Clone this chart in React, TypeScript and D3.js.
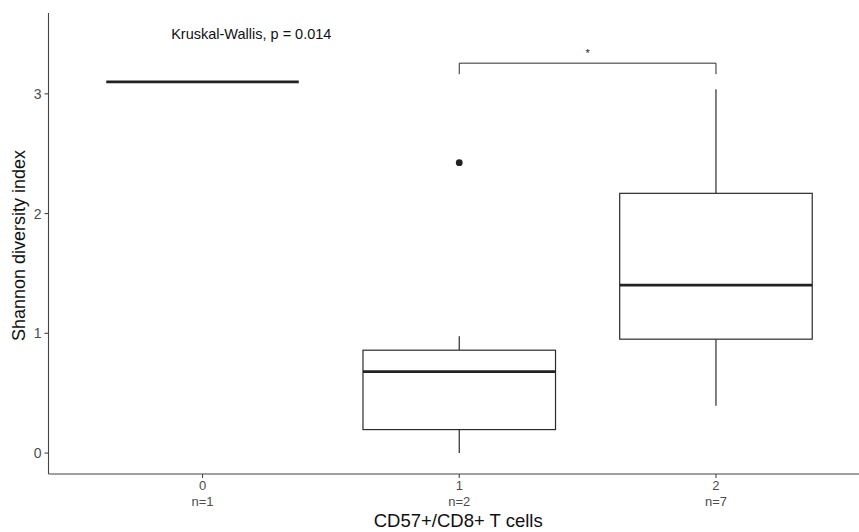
import React from "react";
import * as d3 from "d3";

// ---- data ----
const groups = ["0", "1", "2"];
const groupN = [1, 2, 7];
const whiskerLow = [3.1, 0.0, 0.396];
const q1 = [3.1, 0.196, 0.951];
const median = [3.1, 0.68, 1.402];
const q3 = [3.1, 0.859, 2.169];
const whiskerHigh = [3.1, 0.976, 3.038];
const outlierGroups = ["1"];
const outlierValues = [2.425];
const yTicks = [0, 1, 2, 3];
const kwLabel = "Kruskal-Wallis, p = 0.014";
const kwLabelPos = { x: 0.19, y: 3.5 };
const sigPair = ["1", "2"];
const sigLabel = "*";
const sigY = 3.256;
const sigTip = 3.164;
const xTitle = "CD57+/CD8+ T cells";
const yTitle = "Shannon diversity index";
const yDataMin = 0;
const yDataMax = 3.5;

const W = 859;
const H = 532;
const margin = { left: 48.5, top: 13, bottom: 474, right: 870 };
const FONT = "'Liberation Sans', Arial, Helvetica, sans-serif";
const INK = "#2b2b2b";

export default function App() {
  const x = d3
    .scaleBand<string>()
    .domain(groups)
    .range([margin.left, margin.right])
    .paddingInner(0)
    .paddingOuter(0.1);
  const step = x.step();
  const cx = (g: string) => (x(g) as number) + x.bandwidth() / 2;
  const boxW = step * 0.75;

  const r = yDataMax - yDataMin;
  const y = d3
    .scaleLinear()
    .domain([yDataMin - 0.05 * r, yDataMax + 0.05 * r])
    .range([margin.bottom, margin.top]);

  const idxToX = (i: number) => margin.left + step * (0.6 + i);

  return (
    <svg
      width={W}
      height={H}
      style={{ position: "absolute", left: 0, top: 0, background: "#fff" }}
      fontFamily={FONT}
    >
      <rect x={0} y={0} width={W} height={H} fill="#fff" />

      {/* boxes */}
      {groups.map((g, i) => {
        const c = cx(g);
        const x0 = c - boxW / 2;
        const single = q1[i] === q3[i];
        return (
          <g key={g}>
            {!single && (
              <>
                <line x1={c} x2={c} y1={y(whiskerHigh[i])} y2={y(q3[i])} stroke={INK} strokeWidth={1.2} />
                <line x1={c} x2={c} y1={y(q1[i])} y2={y(whiskerLow[i])} stroke={INK} strokeWidth={1.2} />
                <rect
                  x={x0}
                  y={y(q3[i])}
                  width={boxW}
                  height={y(q1[i]) - y(q3[i])}
                  fill="#fff"
                  stroke={INK}
                  strokeWidth={1.2}
                />
              </>
            )}
            <line
              x1={x0}
              x2={x0 + boxW}
              y1={y(median[i])}
              y2={y(median[i])}
              stroke="#222"
              strokeWidth={2.6}
            />
          </g>
        );
      })}

      {/* outliers */}
      {outlierValues.map((v, k) => (
        <circle key={k} cx={cx(outlierGroups[k])} cy={y(v)} r={3.4} fill="#222" />
      ))}

      {/* significance bracket */}
      <path
        d={`M${cx(sigPair[0])},${y(sigTip)}V${y(sigY)}H${cx(sigPair[1])}V${y(sigTip)}`}
        fill="none"
        stroke={INK}
        strokeWidth={1}
      />
      <text
        x={(cx(sigPair[0]) + cx(sigPair[1])) / 2}
        y={y(sigY) - 6}
        textAnchor="middle"
        fontSize={11}
        fill="#222"
      >
        {sigLabel}
      </text>

      {/* KW label */}
      <text
        x={idxToX(kwLabelPos.x)}
        y={y(kwLabelPos.y)}
        dy="0.35em"
        textAnchor="middle"
        fontSize={14.5}
        fill="#111"
      >
        {kwLabel}
      </text>

      {/* axes */}
      <line x1={margin.left} x2={margin.left} y1={margin.top} y2={margin.bottom} stroke="#444" strokeWidth={1.1} />
      <line x1={margin.left} x2={margin.right} y1={margin.bottom} y2={margin.bottom} stroke="#444" strokeWidth={1.1} />

      {yTicks.map((t) => (
        <g key={t}>
          <line x1={margin.left - 4} x2={margin.left} y1={y(t)} y2={y(t)} stroke="#444" strokeWidth={1.1} />
          <text x={margin.left - 7} y={y(t)} dy="0.36em" textAnchor="end" fontSize={14} fill="#4d4d4d">
            {t}
          </text>
        </g>
      ))}

      {groups.map((g, i) => (
        <g key={g}>
          <line x1={cx(g)} x2={cx(g)} y1={margin.bottom} y2={margin.bottom + 4} stroke="#444" strokeWidth={1.1} />
          <text x={cx(g)} y={margin.bottom + 16} textAnchor="middle" fontSize={13} fill="#4d4d4d">
            {g}
          </text>
          <text x={cx(g)} y={margin.bottom + 32} textAnchor="middle" fontSize={13} fill="#4d4d4d">
            {`n=${groupN[i]}`}
          </text>
        </g>
      ))}

      {/* titles */}
      <text x={(margin.left + margin.right) / 2 - 1} y={527} textAnchor="middle" fontSize={18.5} fill="#111">
        {xTitle}
      </text>
      <text
        transform={`translate(25,${(margin.top + margin.bottom) / 2 + 2}) rotate(-90)`}
        textAnchor="middle"
        fontSize={18}
        fill="#111"
      >
        {yTitle}
      </text>
    </svg>
  );
}
